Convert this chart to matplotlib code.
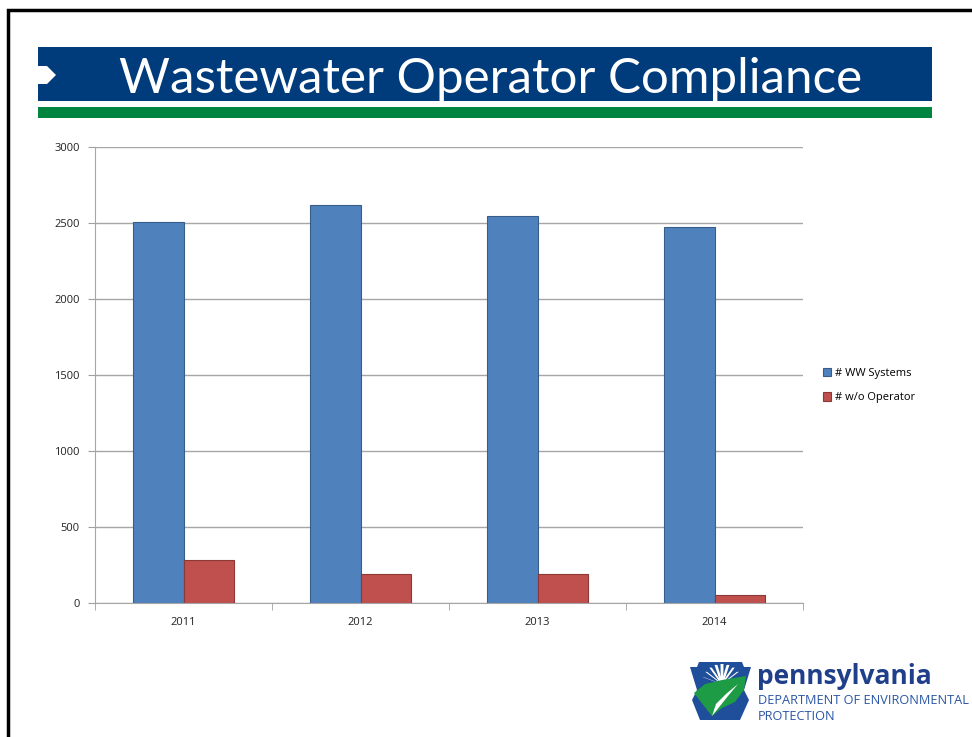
import matplotlib
matplotlib.use("Agg")
import matplotlib.pyplot as plt
from matplotlib.patches import Rectangle, Polygon
import numpy as np

years = ["2011", "2012", "2013", "2014"]
ww_systems = [2508, 2616, 2545, 2476]
wo_operator = [282, 190, 190, 53]
series_names = ["# WW Systems", "# w/o Operator"]
y_ticks = [0, 500, 1000, 1500, 2000, 2500, 3000]

W, H = 972, 737
fig = plt.figure(figsize=(W / 100, H / 100), dpi=100)

def fx(px):
    return px / W

def fy(py):
    return 1 - py / H

# slide frame
fig.add_artist(Rectangle((fx(8), fy(737 + 5)), fx(972), fy(10) - fy(742), transform=fig.transFigure,
                         fill=False, edgecolor="black", linewidth=2.5))

# title banner
fig.add_artist(Rectangle((fx(38), fy(101)), fx(932 - 38), fy(47) - fy(101), transform=fig.transFigure,
                         facecolor="#003B7B", edgecolor="none"))
fig.add_artist(Polygon([(fx(38), fy(66)), (fx(47), fy(66)), (fx(56), fy(75)), (fx(47), fy(84)), (fx(38), fy(84))],
                       closed=True, transform=fig.transFigure, facecolor="white", edgecolor="none"))
fig.add_artist(Rectangle((fx(38), fy(118)), fx(932 - 38), fy(107) - fy(118), transform=fig.transFigure,
                         facecolor="#00843F", edgecolor="none"))
fig.text(fx(491), fy(79), "Wastewater Operator Compliance", color="white", fontsize=35.5,
         family="Lato", ha="center", va="center")

# chart
ax = fig.add_axes([fx(95), fy(603), fx(803 - 95), fy(147) - fy(603)])
x = np.arange(len(years))
bw = 0.285
ax.bar(x - bw / 2, ww_systems, bw, color="#4F81BD", edgecolor="#385D8A", linewidth=0.8,
       label=series_names[0], zorder=3)
ax.bar(x + bw / 2, wo_operator, bw, color="#C0504D", edgecolor="#8C3836", linewidth=0.8,
       label=series_names[1], zorder=3)
ax.set_xlim(-0.5, len(years) - 0.5)
ax.set_ylim(0, 3000)
ax.set_yticks(y_ticks)
ax.set_yticklabels([str(v) for v in y_ticks])
ax.set_xticks(x)
ax.set_xticklabels(years)
ax.set_xticks(np.arange(-0.5, len(years)), minor=True)
ax.tick_params(axis="x", which="major", length=0, pad=10)
ax.tick_params(axis="x", which="minor", length=5, color="#A0A0A0", direction="out")
ax.tick_params(axis="y", length=5, color="#A0A0A0", direction="out", pad=6)
ax.tick_params(labelsize=8, labelcolor="#222222")
for lab in ax.get_xticklabels() + ax.get_yticklabels():
    lab.set_family("Open Sans")
ax.grid(axis="y", color="#A6A6A6", linewidth=1, zorder=0)
for s in ["top", "right"]:
    ax.spines[s].set_visible(False)
ax.spines["left"].set_color("#A6A6A6")
ax.spines["bottom"].set_color("#A6A6A6")
ax.spines["bottom"].set_zorder(4)

leg = fig.legend(loc="upper left", bbox_to_anchor=(fx(817), fy(362)), frameon=False,
                 prop={"family": "Open Sans", "size": 8}, handlelength=0.8, handleheight=0.8,
                 handletextpad=0.3, labelspacing=1.2, borderpad=0)

# logo (keystone)
def poly(pts, color, z=5):
    fig.add_artist(Polygon([(fx(a), fy(b)) for a, b in pts], closed=True, transform=fig.transFigure,
                           facecolor=color, edgecolor="none", zorder=z))

poly([(690, 667), (697, 667), (699, 662), (742, 662), (744, 667), (751, 667),
      (744, 690), (749, 700), (740, 720), (700, 720), (692, 700), (697, 690)], "#1F4E9A")
for ang in np.linspace(20, 160, 9):
    a = np.deg2rad(ang)
    cx, cy = 722, 684
    poly([(cx - 1.2 * np.sin(a), cy),
          (cx + 20 * np.cos(a) - 1.5 * np.sin(a), cy - 20 * np.sin(a)),
          (cx + 20 * np.cos(a) + 1.5 * np.sin(a), cy - 20 * np.sin(a)),
          (cx + 1.2 * np.sin(a), cy)], "white", 6)
poly([(694, 693), (705, 684), (722, 680), (746, 676), (744, 690), (735, 702), (722, 708), (712, 716), (704, 706)],
     "#1E9B45", 7)
poly([(712, 716), (716, 704), (726, 694), (738, 684), (728, 696), (720, 706)], "white", 8)
fig.text(fx(757), fy(677), "pennsylvania", color="#1F3F8A", fontsize=19, fontweight="bold",
         family="Open Sans", ha="left", va="center")
fig.text(fx(758), fy(701), "DEPARTMENT OF ENVIRONMENTAL", color="#2A55A5", fontsize=9.2,
         family="Open Sans", ha="left", va="center")
fig.text(fx(758), fy(716), "PROTECTION", color="#2A55A5", fontsize=9.2,
         family="Open Sans", ha="left", va="center")

fig.savefig("out.png", dpi=100)
